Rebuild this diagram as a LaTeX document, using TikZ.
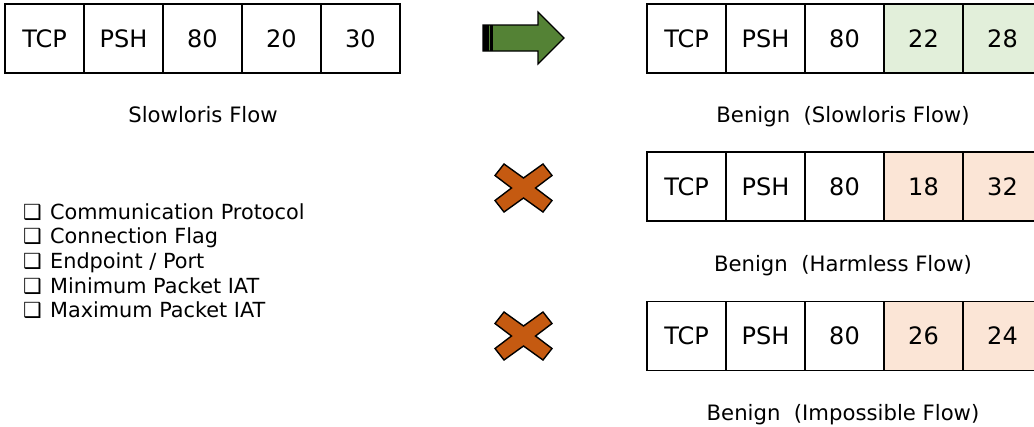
\documentclass[tikz,border=0pt]{standalone}
\usepackage{fontspec}
\setmainfont{DejaVu Sans}
\definecolor{arrowgreen}{HTML}{548235}
\definecolor{crossorange}{HTML}{C55A11}
\definecolor{okfill}{HTML}{E2EFDA}
\definecolor{badfill}{HTML}{FBE5D6}
\newcommand{\tickbox}{\makebox[28pt][l]{\hspace{1pt}❑}}
\begin{document}
\begin{tikzpicture}[x=1pt,y=-1pt,
  cell/.style={draw=black, line width=1.8pt, minimum width=79pt, minimum height=69pt,
               inner sep=0pt, anchor=center, font=\fontsize{24}{28}\selectfont},
  caption/.style={anchor=base, inner sep=0pt, font=\fontsize{21.2}{25}\selectfont},
  item/.style={anchor=base west, inner sep=0pt, font=\fontsize{20.8}{25}\selectfont},
  crossmark/.style={draw=black, fill=crossorange, line width=1.4pt, line join=miter}]
\useasboundingbox (0,0) rectangle (1034,426);
\clip (0,0) rectangle (1034,426);

% original flow record
\node[cell] (s1) at (44.5,38.5)  {TCP};
\node[cell] (s2) at (123.5,38.5) {PSH};
\node[cell] (s3) at (202.5,38.5) {80};
\node[cell] (s4) at (281.5,38.5) {20};
\node[cell] (s5) at (360.5,38.5) {30};
\node[caption] (slab) at (203,122) {Slowloris Flow};

% accepted variant
\node[cell] (a1) at (686.5,38.5) {TCP};
\node[cell] (a2) at (765.5,38.5) {PSH};
\node[cell] (a3) at (844.5,38.5) {80};
\node[cell, fill=okfill] (a4) at (923.5,38.5) {22};
\node[cell, fill=okfill] (a5) at (1002.5,38.5) {28};
\node[caption] (alab) at (843,122) {Benign\ \ (Slowloris Flow)};

% rejected variant: harmless
\node[cell] (h1) at (686.5,186.5) {TCP};
\node[cell] (h2) at (765.5,186.5) {PSH};
\node[cell] (h3) at (844.5,186.5) {80};
\node[cell, fill=badfill] (h4) at (923.5,186.5) {18};
\node[cell, fill=badfill] (h5) at (1002.5,186.5) {32};
\node[caption] (hlab) at (843,271) {Benign\ \ (Harmless Flow)};

% rejected variant: impossible
\node[cell] (i1) at (686.5,336) {TCP};
\node[cell] (i2) at (765.5,336) {PSH};
\node[cell] (i3) at (844.5,336) {80};
\node[cell, fill=badfill] (i4) at (923.5,336) {26};
\node[cell, fill=badfill] (i5) at (1002.5,336) {24};
\node[caption] (ilab) at (843,420) {Benign\ \ (Impossible Flow)};

% feature checklist
\node[item] (f1) at (22,219)   {\tickbox Communication Protocol};
\node[item] (f2) at (22,243.7) {\tickbox Connection Flag};
\node[item] (f3) at (22,268.4) {\tickbox Endpoint / Port};
\node[item] (f4) at (22,293.1) {\tickbox Minimum Packet IAT};
\node[item] (f5) at (22,317.8) {\tickbox Maximum Packet IAT};

% block arrow
\draw[fill=arrowgreen, line width=1.2pt, line join=miter]
  (483,25) -- (538,25) -- (538,12) -- (564,38) -- (538,64) -- (538,51) -- (483,51) -- cycle;
\fill[black] (483,25) rectangle (488.5,51);
\fill[black] (490,25) rectangle (492.5,51);

% cross marks
\foreach \cy in {188,336}
  \draw[crossmark, shift={(523.5,\cy)}]
    (-19.5,-24) -- (0,-10) -- (19.5,-24) -- (28.5,-12.5) -- (12,0) -- (28.5,12.5)
    -- (19.5,24) -- (0,10) -- (-19.5,24) -- (-28.5,12.5) -- (-12,0) -- (-28.5,-12.5) -- cycle;
\end{tikzpicture}
\end{document}
